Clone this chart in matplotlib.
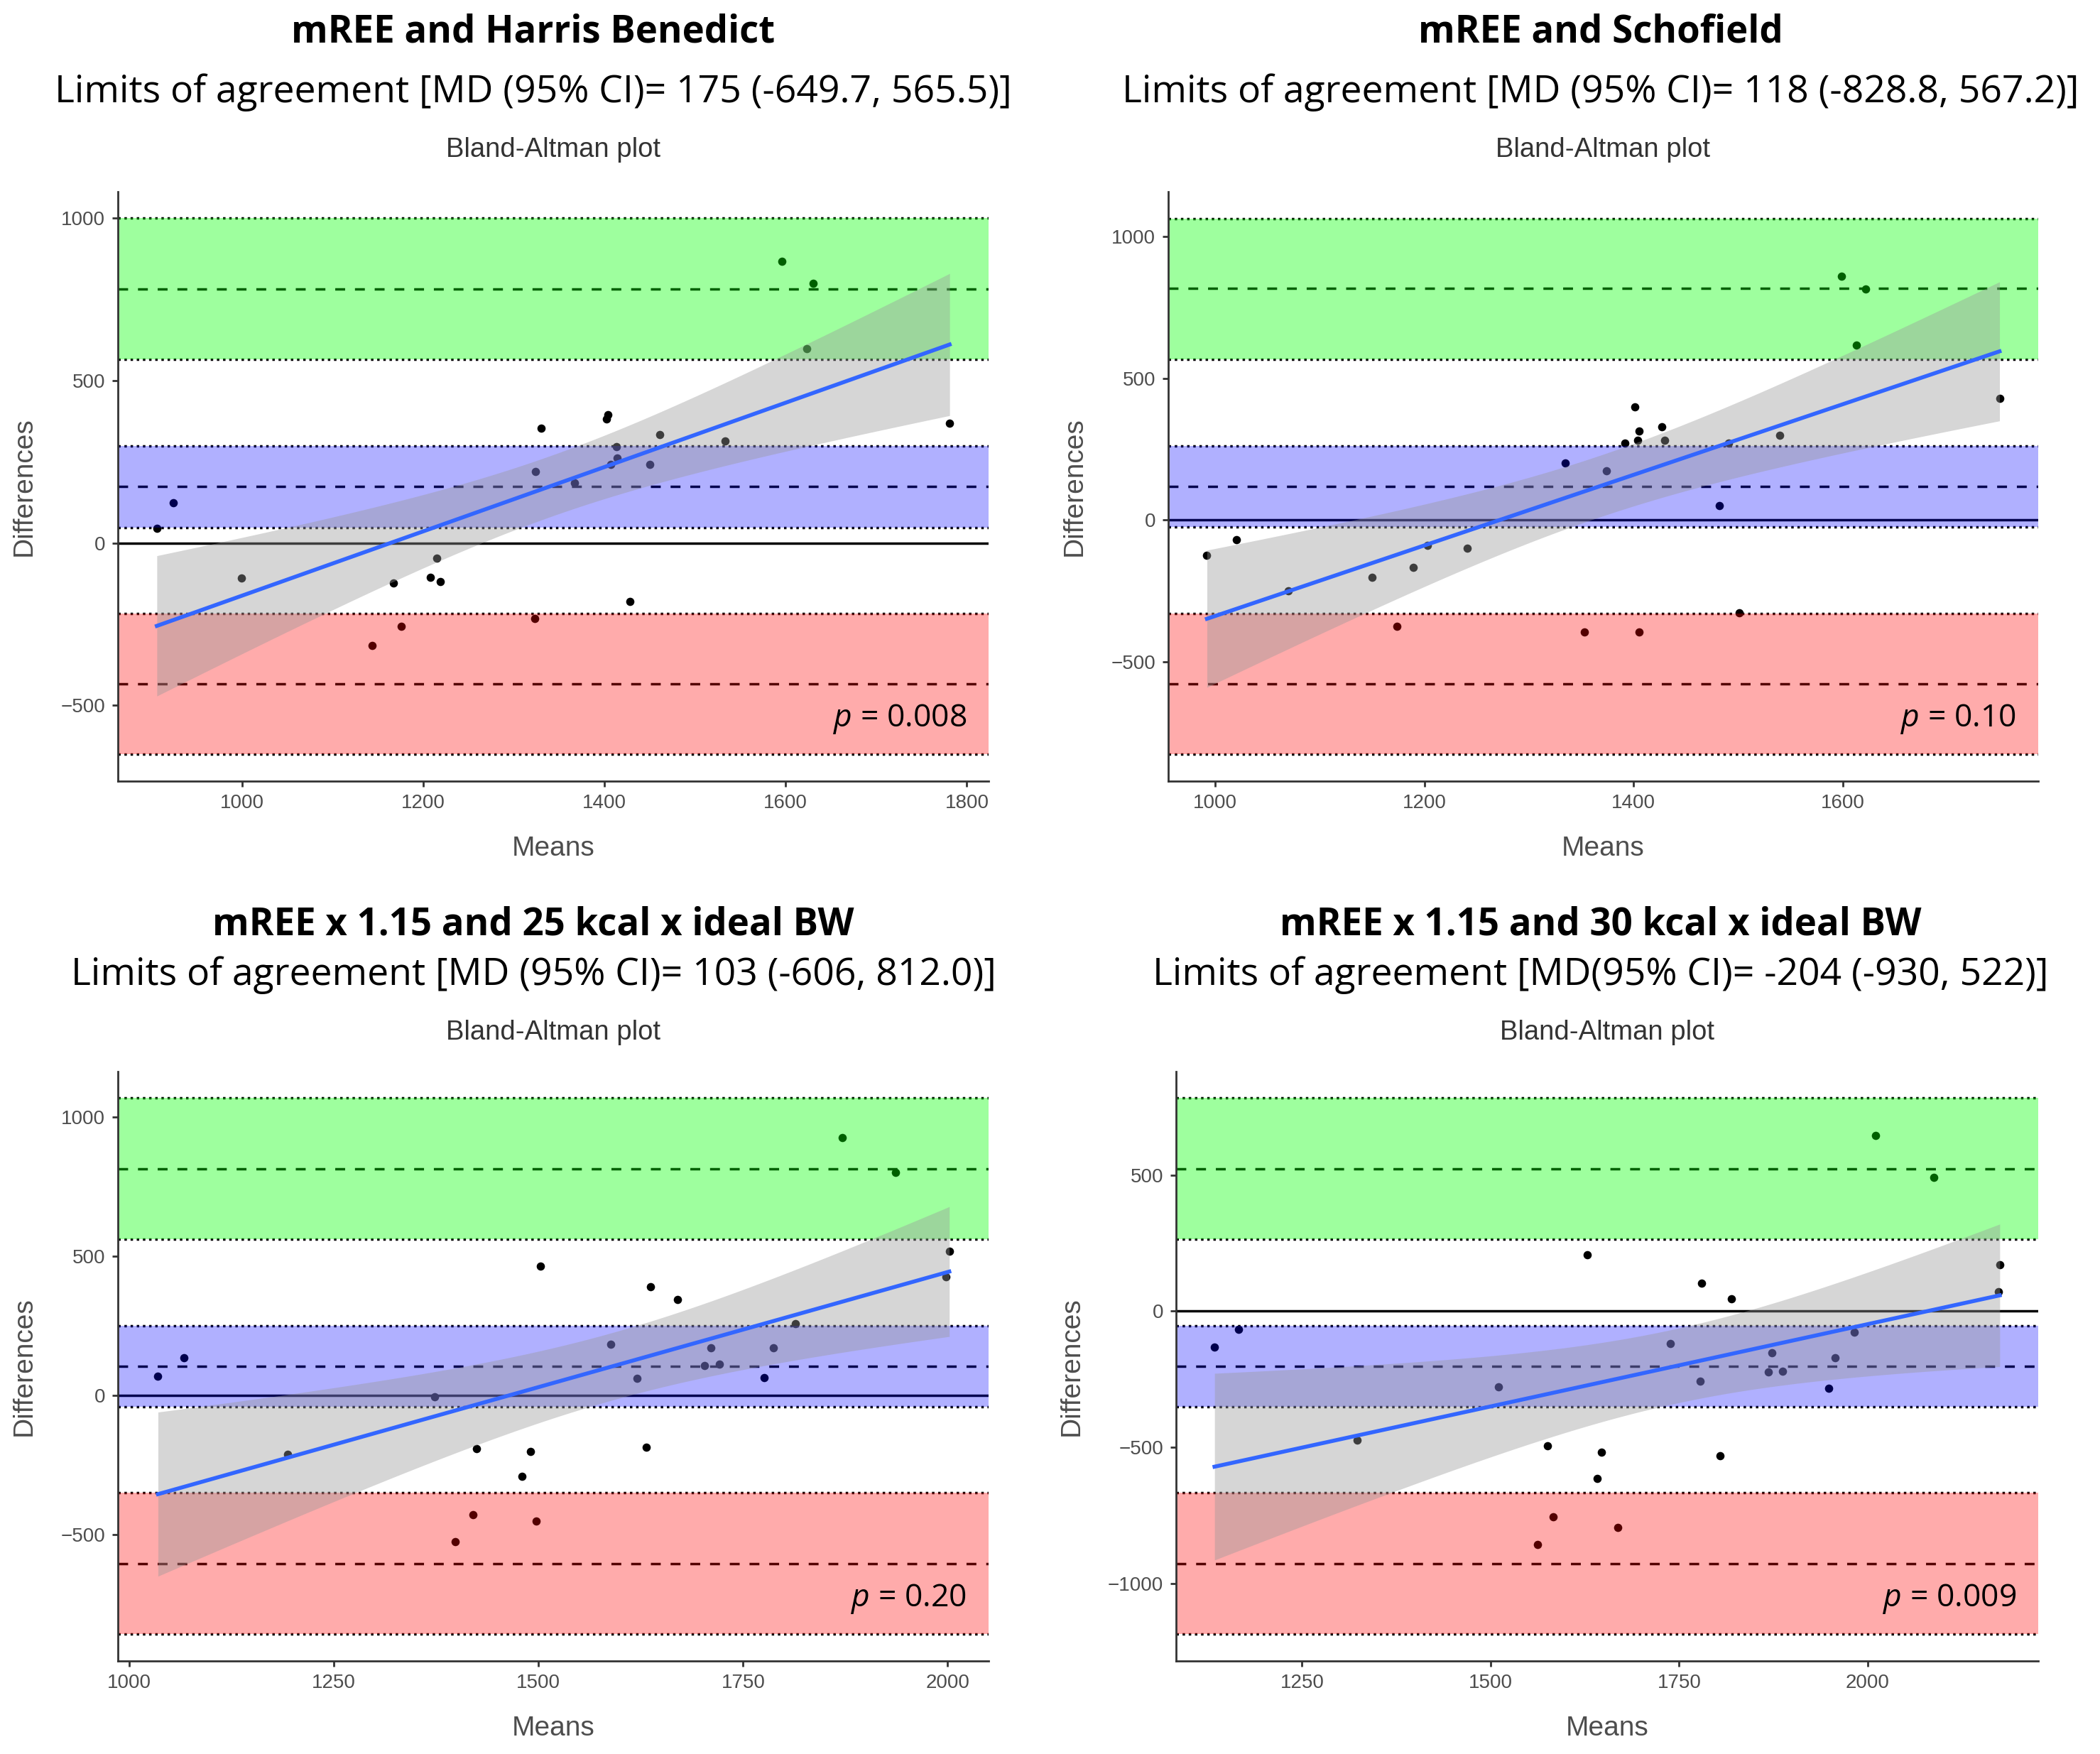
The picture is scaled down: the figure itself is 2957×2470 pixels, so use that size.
import numpy as np
import matplotlib
matplotlib.use("Agg")
import matplotlib.pyplot as plt

plt.rcParams["mathtext.fontset"] = "custom"
plt.rcParams["mathtext.it"] = "Open Sans:italic"
plt.rcParams["mathtext.rm"] = "Open Sans"

# ---- data ----
titles = ["mREE and Harris Benedict", "mREE and Schofield",
          "mREE x 1.15 and 25 kcal x ideal BW", "mREE x 1.15 and 30 kcal x ideal BW"]
subtitles = ["Limits of agreement [MD (95% CI)= 175 (-649.7, 565.5)]",
             "Limits of agreement [MD (95% CI)= 118 (-828.8, 567.2)]",
             "Limits of agreement [MD (95% CI)= 103 (-606, 812.0)]",
             "Limits of agreement [MD(95% CI)= -204 (-930, 522)]"]
p_labels = ["0.008", "0.10", "0.20", "0.009"]

means_hb = [906, 924, 999, 1144, 1167, 1176, 1208, 1215, 1219, 1323, 1324, 1330, 1367,
            1402, 1404, 1407, 1413, 1414, 1428, 1450, 1461, 1533, 1596, 1623, 1630, 1781]
diffs_hb = [46, 123, -108, -316, -123, -257, -107, -48, -120, -233, 221, 354, 185,
            381, 396, 242, 296, 262, -181, 242, 333, 313, 868, 598, 800, 369]

means_sf = [992, 1020, 1070, 1150, 1174, 1189, 1203, 1241, 1335, 1374, 1353, 1392, 1401,
            1404, 1405, 1405, 1427, 1430, 1482, 1491, 1501, 1540, 1599, 1613, 1622, 1750]
diffs_sf = [-124, -68, -250, -203, -374, -167, -88, -98, 201, 173, -395, 273, 400,
            283, 315, -394, 330, 282, 52, 271, -326, 300, 860, 618, 815, 430]

means_25 = [1035, 1067, 1193, 1373, 1398, 1420, 1424, 1480, 1490, 1497, 1502, 1588, 1620,
            1632, 1637, 1670, 1703, 1711, 1721, 1776, 1787, 1814, 1871, 1936, 1998, 2002]
diffs_25 = [68, 133, -213, -5, -526, -429, -193, -292, -202, -452, 463, 182, 60,
            -186, 388, 343, 106, 171, 111, 63, 169, 257, 925, 801, 425, 516]

means_30 = [1134, 1166, 1323, 1510, 1562, 1575, 1583, 1628, 1641, 1647, 1669, 1738, 1778,
            1780, 1804, 1819, 1868, 1873, 1887, 1948, 1957, 1982, 2010, 2088, 2173, 2175]
diffs_30 = [-131, -66, -473, -279, -856, -494, -756, 208, -615, -518, -794, -118, -257,
            102, -530, 45, -223, -153, -220, -283, -171, -77, 644, 492, 71, 170]

# limits: (ci lo, line, ci hi) for upper LoA, mean difference, lower LoA
upper_lims = [(566, 783, 1000), (568, 817, 1065), (561, 813, 1067), (265, 523, 783)]
mean_lims = [(48, 175, 299), (-23, 120, 262), (-43, 103, 249), (-352, -203, -53)]
lower_lims = [(-651, -435, -218), (-826, -577, -330), (-859, -605, -351), (-1187, -927, -667)]

xlims = [(863, 1824), (955, 1787), (986, 2050), (1083, 2226)]
ylims = [(-734, 1082), (-921, 1159), (-955, 1162), (-1285, 880)]
xticks = [[1000, 1200, 1400, 1600, 1800], [1000, 1200, 1400, 1600],
          [1000, 1250, 1500, 1750, 2000], [1250, 1500, 1750, 2000]]
yticks = [[-500, 0, 500, 1000], [-500, 0, 500, 1000],
          [-500, 0, 500, 1000], [-1000, -500, 0, 500]]

all_means = [means_hb, means_sf, means_25, means_30]
all_diffs = [diffs_hb, diffs_sf, diffs_25, diffs_30]

W, H = 2957, 2470
fig = plt.figure(figsize=(W / 100, H / 100), dpi=100)

# axes rectangles in pixels (left, top, right, bottom)
boxes = [(166, 270, 1392, 1100), (1645, 270, 2870, 1100),
         (166, 1509, 1392, 2339), (1656, 1509, 2870, 2339)]
head_x = [751, 2254, 751, 2254]
title_y = [46, 46, 1303, 1303]
sub_y = [130, 130, 1373, 1373]
ba_y = [211, 211, 1454, 1454]

tsans = ["Open Sans", "Noto Sans", "DejaVu Sans"]
asans = ["Liberation Sans", "DejaVu Sans"]


def smooth(x, y):
    x = np.asarray(x, float)
    y = np.asarray(y, float)
    b, a = np.polyfit(x, y, 1)
    xs = np.linspace(x.min(), x.max(), 100)
    fit = a + b * xs
    n = len(x)
    s = np.sqrt(np.sum((y - (a + b * x)) ** 2) / (n - 2))
    se = s * np.sqrt(1 / n + (xs - x.mean()) ** 2 / np.sum((x - x.mean()) ** 2))
    t = 2.064  # t(0.975, df=24)
    return xs, fit, fit - t * se, fit + t * se


for i in range(4):
    l, t, r, b = boxes[i]
    ax = fig.add_axes([l / W, 1 - b / H, (r - l) / W, (b - t) / H])
    cx = (l + r) / 2 / W

    fig.text(head_x[i] / W, 1 - title_y[i] / H, titles[i], ha="center", va="center",
             fontsize=38, fontweight="bold", family=tsans)
    fig.text(head_x[i] / W, 1 - sub_y[i] / H, subtitles[i], ha="center", va="center",
             fontsize=38.5, family=tsans)
    fig.text(cx, 1 - ba_y[i] / H, "Bland-Altman plot", ha="center", va="center",
             fontsize=27.5, family=asans, color="#333333")

    x = all_means[i]
    y = all_diffs[i]
    ax.scatter(x, y, s=70, color="black", zorder=1, linewidths=0)
    ax.axhline(0, color="black", lw=2.5, zorder=1)
    for lims in (upper_lims[i], mean_lims[i], lower_lims[i]):
        ax.axhline(lims[1], color="black", lw=2.5, ls=(0, (4, 4)), zorder=1)
        ax.axhline(lims[0], color="black", lw=2.5, ls=(0, (1, 1.5)), zorder=1)
        ax.axhline(lims[2], color="black", lw=2.5, ls=(0, (1, 1.5)), zorder=1)
    ax.axhspan(upper_lims[i][0], upper_lims[i][2], color=(0, 1, 0), alpha=0.38, lw=0, zorder=2)
    ax.axhspan(mean_lims[i][0], mean_lims[i][2], color=(0, 0, 1), alpha=0.31, lw=0, zorder=2)
    ax.axhspan(lower_lims[i][0], lower_lims[i][2], color=(1, 0, 0), alpha=0.33, lw=0, zorder=2)

    xs, fit, lo, hi = smooth(x, y)
    ax.fill_between(xs, lo, hi, color="#999999", alpha=0.4, lw=0, zorder=3)
    ax.plot(xs, fit, color="#3366FF", lw=4, zorder=4)

    ax.text(0.975, 0.105, "$p$ = " + p_labels[i], transform=ax.transAxes,
            ha="right", va="center", fontsize=32, family=tsans, zorder=5)

    ax.set_xlim(*xlims[i])
    ax.set_ylim(*ylims[i])
    ax.set_xticks(xticks[i])
    ax.set_yticks(yticks[i])
    ax.spines["top"].set_visible(False)
    ax.spines["right"].set_visible(False)
    for sp in ("left", "bottom"):
        ax.spines[sp].set_linewidth(2)
        ax.spines[sp].set_color("#333333")
    ax.tick_params(length=6, width=2, color="#333333", labelsize=20,
                   labelcolor="#4d4d4d", pad=7)
    for lab in ax.get_xticklabels() + ax.get_yticklabels():
        lab.set_family(asans)
    ax.set_xlabel("Means", fontsize=28, family=asans, color="#4d4d4d", labelpad=24)
    ax.set_ylabel("Differences", fontsize=28, family=asans, color="#4d4d4d", labelpad=24)

fig.savefig("out.png", dpi=100)
